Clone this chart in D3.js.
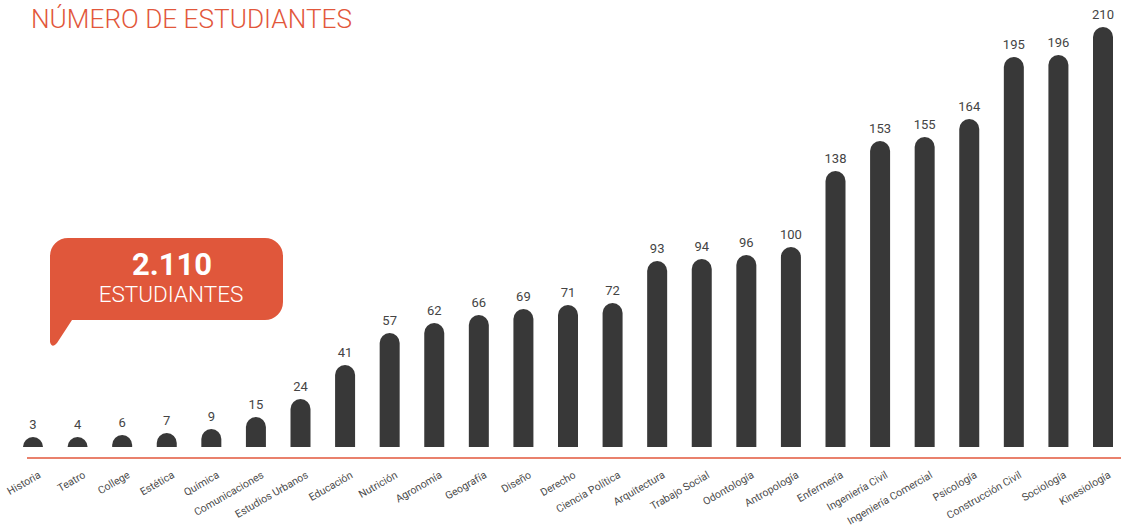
<!DOCTYPE html>
<html>
<head>
<meta charset="utf-8">
<script src="https://cdn.jsdelivr.net/npm/d3@7"></script>
<style>
  body { margin: 0; background: #fff; }
  svg { display: block; font-family: Roboto, "Open Sans", sans-serif; }
</style>
</head>
<body>
<div id="chart"></div>
<script>
// data
const carreras = ["Historia", "Teatro", "College", "Estética", "Química", "Comunicaciones",
  "Estudios Urbanos", "Educación", "Nutrición", "Agronomía", "Geografía", "Diseño", "Derecho",
  "Ciencia Política", "Arquitectura", "Trabajo Social", "Odontología", "Antropología",
  "Enfermería", "Ingeniería Civil", "Ingeniería Comercial", "Psicología", "Construcción Civil",
  "Sociología", "Kinesiología"]
const estudiantes = [3, 4, 6, 7, 9, 15, 24, 41, 57, 62, 66, 69, 71, 72, 93, 94, 96, 100,
  138, 153, 155, 164, 195, 196, 210]
const totalLabel = "2.110"
const totalSub = "ESTUDIANTES"
const titulo = "NÚMERO DE ESTUDIANTES"

const width = 1121, height = 527
const baseY = 447
const barW = 20, r = barW / 2
const red = "#e2573b"

const svg = d3.select("#chart").append("svg")
  .attr("width", width)
  .attr("height", height)

// scales
const x = d3.scalePoint().domain(carreras).range([33, 1103])
const y = d3.scaleLinear().domain([0, 210]).range([baseY, 27])

// title
svg.append("text")
  .attr("x", 31).attr("y", 28)
  .attr("fill", red)
  .attr("font-size", 26)
  .attr("font-weight", 300)
  .attr("textLength", 321)
  .attr("lengthAdjust", "spacingAndGlyphs")
  .text(titulo)

const data = carreras.map((c, i) => ({ name: c, value: estudiantes[i] }))

// bars with rounded top
function barPath(d) {
  const cx = x(d.name)
  const h = Math.max(baseY - y(d.value), r)
  const top = baseY - h
  return `M${cx - r},${baseY} L${cx - r},${top + r} A${r},${r} 0 0 1 ${cx + r},${top + r} L${cx + r},${baseY} Z`
}

svg.append("g").selectAll("path")
  .data(data)
  .join("path")
    .attr("d", barPath)
    .attr("fill", "#383838")

// value labels
svg.append("g").selectAll("text")
  .data(data)
  .join("text")
    .attr("x", d => x(d.name))
    .attr("y", d => baseY - Math.max(baseY - y(d.value), r) - 8)
    .attr("text-anchor", "middle")
    .attr("font-size", 13)
    .attr("fill", "#444")
    .text(d => d.value)

// baseline
svg.append("line")
  .attr("x1", 27).attr("x2", width)
  .attr("y1", 458).attr("y2", 458)
  .attr("stroke", red)
  .attr("stroke-width", 1.5)

// x labels, rotated
const xAxis = svg.append("g")
  .attr("transform", `translate(0,${baseY})`)
  .call(d3.axisBottom(x).tickSize(0).tickPadding(0))
xAxis.select(".domain").remove()
xAxis.selectAll("text")
  .attr("transform", "translate(8,30) rotate(-30)")
  .attr("dy", 0)
  .attr("y", 0)
  .attr("text-anchor", "end")
  .attr("font-size", 10.5)
  .attr("font-family", "Roboto, 'Open Sans', sans-serif")
  .attr("fill", "#4a4a4a")

// callout bubble
const bx0 = 50, bx1 = 283, by0 = 238, by1 = 320, br = 18
const bubble = d3.path()
bubble.moveTo(bx0 + br, by0)
bubble.lineTo(bx1 - br, by0)
bubble.arcTo(bx1, by0, bx1, by0 + br, br)
bubble.lineTo(bx1, by1 - br)
bubble.arcTo(bx1, by1, bx1 - br, by1, br)
bubble.lineTo(72, by1)
bubble.lineTo(57, 343)
bubble.quadraticCurveTo(52, 349, 50, 342)
bubble.lineTo(bx0, by0 + br)
bubble.arcTo(bx0, by0, bx0 + br, by0, br)
bubble.closePath()

svg.append("path")
  .attr("d", bubble.toString())
  .attr("fill", "#e0573b")

svg.append("text")
  .attr("x", 172).attr("y", 275)
  .attr("text-anchor", "middle")
  .attr("fill", "#fff")
  .attr("font-size", 31)
  .attr("font-weight", "bold")
  .text(totalLabel)

svg.append("text")
  .attr("x", 171).attr("y", 302)
  .attr("text-anchor", "middle")
  .attr("fill", "#fff")
  .attr("font-size", 22.5)
  .attr("font-weight", 300)
  .text(totalSub)
</script>
</body>
</html>
